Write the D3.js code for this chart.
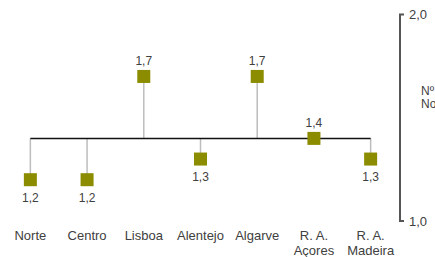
<!DOCTYPE html>
<html lang="pt">
<head>
<meta charset="utf-8">
<script src="https://d3js.org/d3.v7.min.js"></script>
<style>
  body { margin: 0; background: #fff; }
  text { font-family: "Liberation Sans", Arial, sans-serif; fill: #404040; }
</style>
</head>
<body>
<script>
// data
var regions = ["Norte", "Centro", "Lisboa", "Alentejo", "Algarve", "R. A.|Açores", "R. A.|Madeira"];
var values = [1.2, 1.2, 1.7, 1.3, 1.7, 1.4, 1.3];
var baseline = 1.4;
var yTicks = [1.0, 2.0];
var yTitle = ["Nº médio", "Nos"];

const W = 435, H = 257;
const svg = d3.select("body").append("svg").attr("width", W).attr("height", H);

var x = d3.scaleBand().domain(regions).range([2, 399]);
var y = d3.scaleLinear().domain([1, 2]).range([221, 14.5]);
var fmt = function(v) { return d3.format(".1f")(v).replace(".", ","); };
var cx = function(d) { return x(d) + x.bandwidth() / 2; };

// right axis
var ax = svg.append("g").attr("transform", "translate(400,0)")
  .call(d3.axisRight(y).tickValues(yTicks).tickSize(4).tickPadding(5).tickFormat(fmt));
ax.select(".domain").attr("stroke", "#555").attr("stroke-width", 2).attr("d", "M4," + y(2) + "H0V" + y(1) + "H4");
ax.selectAll(".tick line").remove();
ax.selectAll(".tick text").attr("font-size", 13).attr("fill", "#404040").attr("font-family", "Liberation Sans, Arial, sans-serif");

svg.selectAll(".ytitle").data(yTitle).enter().append("text")
  .attr("x", 421).attr("y", function(d, i) { return 95 + i * 13; })
  .attr("font-size", 12).text(function(d) { return d; });

// stems
svg.selectAll(".stem").data(values).enter().append("line")
  .attr("x1", function(d, i) { return cx(regions[i]); })
  .attr("x2", function(d, i) { return cx(regions[i]); })
  .attr("y1", y(baseline)).attr("y2", function(d) { return y(d); })
  .attr("stroke", "#bdbdbd").attr("stroke-width", 1.5);

// baseline
svg.append("line")
  .attr("x1", cx(regions[0])).attr("x2", cx(regions[regions.length - 1]))
  .attr("y1", y(baseline)).attr("y2", y(baseline))
  .attr("stroke", "#111").attr("stroke-width", 1.5);

// markers
const s = 13;
svg.selectAll(".mk").data(values).enter().append("rect")
  .attr("x", function(d, i) { return cx(regions[i]) - s / 2; })
  .attr("y", function(d) { return y(d) - s / 2; })
  .attr("width", s).attr("height", s)
  .attr("fill", "#8c8c00");

// value labels
svg.selectAll(".vl").data(values).enter().append("text")
  .attr("x", function(d, i) { return cx(regions[i]); })
  .attr("y", function(d) { return d >= baseline ? y(d) - 11 : y(d) + 22; })
  .attr("text-anchor", "middle").attr("font-size", 12)
  .text(function(d) { return fmt(d); });

// category labels
var cl = svg.selectAll(".cl").data(regions).enter().append("text")
  .attr("x", function(d) { return cx(d); })
  .attr("y", 240)
  .attr("text-anchor", "middle").attr("font-size", 13);
cl.selectAll("tspan").data(function(d) { return d.split("|").map(function(t) { return [t, d]; }); })
  .enter().append("tspan")
  .attr("x", function(t) { return cx(t[1]); })
  .attr("dy", function(t, i) { return i === 0 ? 0 : 15; })
  .text(function(t) { return t[0]; });
</script>
</body>
</html>
